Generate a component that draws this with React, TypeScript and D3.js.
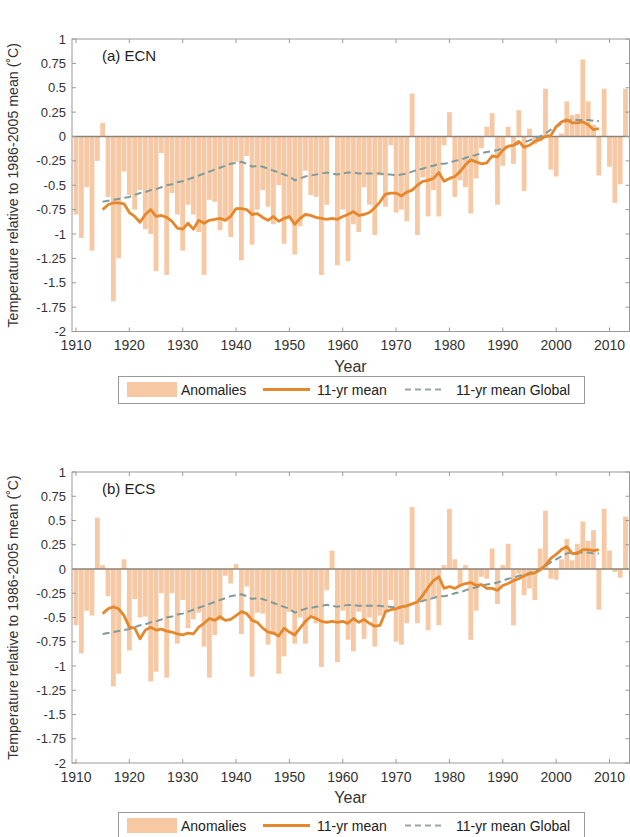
import React from "react";
import * as d3 from "d3";

const years: number[] = d3.range(1910, 2014);
const meanYears: number[] = d3.range(1915, 2009);

const ecnAnom: number[] = [
  -0.80, -1.04, -0.52, -1.17, -0.25, 0.14, -0.62, -1.69, -1.25, -0.36,
  -0.60, -0.75, -0.55, -0.95, -1.00, -1.38, -0.17, -1.42, -0.58, -0.80,
  -1.17, -0.70, -0.80, -0.98, -1.42, -0.65, -0.67, -0.96, -0.85, -1.03,
  -0.26, -1.27, -0.20, -1.11, -0.75, -0.55, -0.72, -0.90, -0.50, -1.10,
  -0.85, -1.21, -0.92, -0.35, -0.60, -0.62, -1.42, -0.70, 0.01, -1.32,
  -0.75, -1.28, -0.90, -0.98, -0.52, -0.70, -1.01, -0.40, -0.72, -0.09,
  -0.78, -0.75, -0.87, 0.44, -1.01, -0.42, -0.82, -0.55, -0.82, -0.09,
  0.25, -0.62, -0.45, -0.52, -0.79, -0.43, -0.12, 0.10, 0.24, -0.70,
  -0.30, 0.10, -0.28, 0.27, -0.56, 0.08, -0.08, -0.05, 0.49, -0.34,
  -0.41, 0.03, 0.36, 0.22, 0.23, 0.79, 0.36, 0.12, -0.40, 0.49,
  -0.31, -0.68, -0.49, 0.49,
];

const ecnMean: number[] = [
  -0.75, -0.70, -0.68, -0.68, -0.69, -0.78, -0.82, -0.88, -0.80, -0.75,
  -0.82, -0.81, -0.83, -0.87, -0.94, -0.95, -0.89, -0.95, -0.86, -0.89,
  -0.86, -0.85, -0.84, -0.86, -0.82, -0.74, -0.74, -0.75, -0.80, -0.79,
  -0.83, -0.86, -0.82, -0.87, -0.84, -0.82, -0.90, -0.84, -0.80, -0.81,
  -0.83, -0.84, -0.85, -0.84, -0.85, -0.82, -0.80, -0.77, -0.81, -0.80,
  -0.78, -0.73, -0.67, -0.59, -0.58, -0.58, -0.61, -0.57, -0.55, -0.50,
  -0.46, -0.45, -0.43, -0.37, -0.46, -0.43, -0.41, -0.36, -0.29, -0.24,
  -0.26, -0.28, -0.27, -0.20, -0.21, -0.14, -0.10, -0.09, -0.05, -0.11,
  -0.09, -0.05, -0.03, 0.00, 0.01, 0.10, 0.15, 0.17, 0.14, 0.14,
  0.15, 0.12, 0.07, 0.08,
];

const globalMean: number[] = [
  -0.67, -0.66, -0.65, -0.64, -0.63, -0.62, -0.60, -0.58, -0.57, -0.55,
  -0.54, -0.52, -0.50, -0.49, -0.47, -0.46, -0.44, -0.42, -0.40, -0.38,
  -0.36, -0.34, -0.32, -0.30, -0.28, -0.27, -0.26, -0.28, -0.31, -0.30,
  -0.31, -0.33, -0.35, -0.37, -0.39, -0.41, -0.45, -0.43, -0.41, -0.40,
  -0.39, -0.38, -0.37, -0.38, -0.39, -0.38, -0.37, -0.37, -0.38, -0.38,
  -0.38, -0.38, -0.38, -0.39, -0.39, -0.40, -0.39, -0.38, -0.36, -0.34,
  -0.33, -0.31, -0.30, -0.28, -0.28, -0.27, -0.25, -0.24, -0.22, -0.20,
  -0.19, -0.17, -0.16, -0.15, -0.14, -0.12, -0.10, -0.09, -0.07, -0.06,
  -0.04, -0.02, 0.00, 0.03, 0.07, 0.10, 0.13, 0.16, 0.17, 0.17,
  0.17, 0.17, 0.16, 0.16,
];

const ecsAnom: number[] = [
  -0.58, -0.87, -0.43, -0.48, 0.53, 0.04, -0.28, -1.21, -1.08, 0.10,
  -0.84, -0.31, -0.50, -0.49, -1.16, -1.06, -0.25, -1.12, -0.25, -0.77,
  -0.32, -0.61, -0.52, -0.45, -0.80, -1.12, -0.68, -0.53, -0.07, -0.15,
  0.05, -0.67, -0.18, -1.11, -0.45, -0.46, -0.78, -0.68, -1.08, -0.90,
  -0.44, -0.77, -0.50, -0.77, -0.49, -0.56, -1.01, -0.22, 0.19, -0.96,
  -0.43, -0.73, -0.85, -0.44, -0.72, -0.50, -0.80, -0.48, -0.45, -0.32,
  -0.75, -0.78, -0.56, 0.64, -0.56, -0.32, -0.63, -0.29, -0.58, 0.04,
  0.62, 0.10, -0.18, 0.04, -0.73, -0.43, -0.08, -0.10, 0.21, -0.36,
  0.04, 0.26, -0.58, -0.05, -0.27, -0.20, -0.32, 0.21, 0.60, -0.10,
  -0.11, 0.10, 0.31, 0.09, 0.26, 0.49, 0.29, 0.40, -0.42, 0.62,
  0.19, -0.03, -0.09, 0.54,
];

const ecsMean: number[] = [
  -0.46, -0.41, -0.39, -0.41, -0.48, -0.60, -0.61, -0.72, -0.63, -0.60,
  -0.63, -0.62, -0.64, -0.65, -0.67, -0.68, -0.66, -0.67, -0.60, -0.56,
  -0.51, -0.53, -0.49, -0.53, -0.52, -0.48, -0.44, -0.46, -0.53, -0.55,
  -0.61, -0.65, -0.66, -0.69, -0.61, -0.65, -0.68, -0.61, -0.54, -0.49,
  -0.51, -0.54, -0.55, -0.54, -0.55, -0.54, -0.56, -0.51, -0.55, -0.52,
  -0.56, -0.59, -0.58, -0.44, -0.42, -0.41, -0.39, -0.38, -0.36, -0.34,
  -0.27, -0.19, -0.12, -0.08, -0.20, -0.18, -0.20, -0.17, -0.15, -0.14,
  -0.17, -0.16, -0.20, -0.20, -0.22, -0.17, -0.15, -0.12, -0.10, -0.07,
  -0.05, -0.04, -0.01, 0.04, 0.11, 0.15, 0.20, 0.23, 0.16, 0.16,
  0.20, 0.20, 0.19, 0.20,
];

const xTicks: number[] = [1910, 1920, 1930, 1940, 1950, 1960, 1970, 1980, 1990, 2000, 2010];
const yTicks: number[] = [1, 0.75, 0.5, 0.25, 0, -0.25, -0.5, -0.75, -1, -1.25, -1.5, -1.75, -2];
const yTickLabels: string[] = ["1", "0.75", "0.5", "0.25", "0", "-0.25", "-0.5", "-0.75", "-1", "-1.25", "-1.5", "-1.75", "-2"];
const legendLabels: string[] = ["Anomalies", "11-yr mean", "11-yr mean Global"];

const FONT = "'Liberation Sans', Arial, Helvetica, sans-serif";
const BAR = "#f6c9a4";
const ORANGE = "#e5872a";
const DASH = "#7f9b9b";
const FRAME = "#9a9a9a";
const TEXT = "#333";

const LEFT = 72;
const RIGHT = 629.5;

type PanelProps = {
  top: number;
  bottom: number;
  label: string;
  anom: number[];
  mean: number[];
  legendTop: number;
};

function Panel({ top, bottom, label, anom, mean, legendTop }: PanelProps) {
  const x = d3.scaleLinear().domain([1909.25, 2013.75]).range([LEFT, RIGHT]);
  const y = d3.scaleLinear().domain([-2, 1]).range([bottom, top]);
  const bw = (x(1911) - x(1910)) * 0.9;
  const line = d3
    .line<number>()
    .x((_, i) => x(meanYears[i]))
    .y((d) => y(d))
    .curve(d3.curveLinear);
  const midX = (LEFT + 637) / 2;
  const clipId = `clip-${label.replace(/[^a-z]/gi, "")}`;
  return (
    <g>
      <defs>
        <clipPath id={clipId}>
          <rect x={LEFT} y={top} width={RIGHT - LEFT} height={bottom - top} />
        </clipPath>
      </defs>
      <g clipPath={`url(#${clipId})`}>
        {anom.map((v, i) => (
          <rect
            key={i}
            x={x(years[i]) - bw / 2}
            width={bw}
            y={Math.min(y(v), y(0))}
            height={Math.abs(y(v) - y(0))}
            fill={BAR}
          />
        ))}
        <line x1={LEFT} x2={RIGHT} y1={y(0)} y2={y(0)} stroke="#8e8277" strokeWidth={1.6} />
        <path d={line(globalMean) || ""} fill="none" stroke={DASH} strokeWidth={2} strokeDasharray="7,4" />
        <path d={line(mean) || ""} fill="none" stroke={ORANGE} strokeWidth={2.8} strokeLinejoin="round" />
      </g>
      <rect x={LEFT} y={top} width={RIGHT - LEFT} height={bottom - top} fill="none" stroke={FRAME} strokeWidth={1} />
      {xTicks.map((t) => (
        <g key={t}>
          <line x1={x(t)} x2={x(t)} y1={bottom} y2={bottom - 4} stroke={FRAME} />
          <line x1={x(t)} x2={x(t)} y1={top} y2={top + 4} stroke={FRAME} />
          <text x={x(t)} y={bottom + 18.5} textAnchor="middle" fontSize={14} fontFamily={FONT} fill={TEXT}>
            {t}
          </text>
        </g>
      ))}
      {yTicks.map((t, i) => (
        <g key={t}>
          <line x1={LEFT} x2={LEFT + 4} y1={y(t)} y2={y(t)} stroke={FRAME} />
          <line x1={RIGHT - 4} x2={RIGHT} y1={y(t)} y2={y(t)} stroke={FRAME} />
          <text x={LEFT - 6} y={y(t) + 4.5} textAnchor="end" fontSize={13} fontFamily={FONT} fill={TEXT}>
            {yTickLabels[i]}
          </text>
        </g>
      ))}
      <text x={102} y={top + 22} fontSize={15} fontFamily={FONT} fill="#222">
        {label}
      </text>
      <text
        transform={`translate(18,${(top + bottom) / 2}) rotate(-90)`}
        textAnchor="middle"
        fontSize={14.2}
        fontFamily={FONT}
        fill={TEXT}
      >
        Temperature relative to 1986-2005 mean (˚C)
      </text>
      <text x={midX - 4} y={bottom + 40} textAnchor="middle" fontSize={16} fontFamily={FONT} fill={TEXT}>
        Year
      </text>
      <g>
        <rect x={118.5} y={legendTop + 0.5} width={466} height={27} fill="#fff" stroke={FRAME} strokeWidth={1} />
        <rect x={127} y={legendTop + 6} width={50} height={15} fill={BAR} />
        <text x={181} y={legendTop + 18.5} fontSize={14} fontFamily={FONT} fill="#222">
          {legendLabels[0]}
        </text>
        <line x1={263} x2={310} y1={legendTop + 13.5} y2={legendTop + 13.5} stroke={ORANGE} strokeWidth={2.8} />
        <text x={317} y={legendTop + 18.5} fontSize={14} fontFamily={FONT} fill="#222">
          {legendLabels[1]}
        </text>
        <line x1={405} x2={445} y1={legendTop + 13.5} y2={legendTop + 13.5} stroke="#9aa6a6" strokeWidth={1.8} strokeDasharray="6,4" />
        <text x={456} y={legendTop + 18.5} fontSize={14} fontFamily={FONT} fill="#222">
          {legendLabels[2]}
        </text>
      </g>
    </g>
  );
}

export default function App() {
  return (
    <svg
      width={630}
      height={837}
      style={{ position: "absolute", left: 0, top: 0, background: "#fff" }}
    >
      <rect x={0} y={0} width={630} height={837} fill="#fff" />
      <Panel top={39} bottom={331.5} label="(a) ECN" anom={ecnAnom} mean={ecnMean} legendTop={376} />
      <Panel top={472} bottom={763} label="(b) ECS" anom={ecsAnom} mean={ecsMean} legendTop={812} />
    </svg>
  );
}
